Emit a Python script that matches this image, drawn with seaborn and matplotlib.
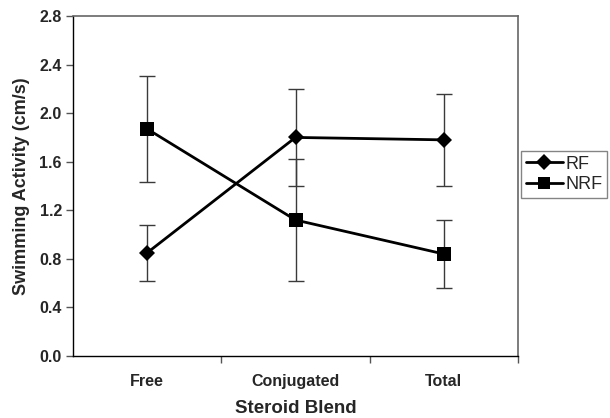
import matplotlib
matplotlib.use("Agg")
import matplotlib.pyplot as plt
import pandas as pd
import seaborn as sns
from matplotlib.lines import Line2D
from matplotlib.ticker import FixedLocator

blends = ["Free", "Conjugated", "Total"]
rf_mean = [0.85, 1.80, 1.78]
rf_err = [0.23, 0.40, 0.38]
nrf_mean = [1.87, 1.12, 0.84]
nrf_err = [0.44, 0.50, 0.28]
y_ticks = [0.0, 0.4, 0.8, 1.2, 1.6, 2.0, 2.4, 2.8]

df = pd.DataFrame({
    "Steroid Blend": blends * 2,
    "Swimming Activity (cm/s)": rf_mean + nrf_mean,
    "err": rf_err + nrf_err,
    "Group": ["RF"] * 3 + ["NRF"] * 3,
})

sns.set_style("white")
plt.rcParams["font.family"] = ["Liberation Sans", "DejaVu Sans"]

fig = plt.figure(figsize=(6.1, 4.18), dpi=100)
ax = fig.add_axes([73 / 610, 1 - 356 / 418, 445 / 610, 340 / 418])

# error bars first so markers sit on top
for grp in ["RF", "NRF"]:
    sub = df[df["Group"] == grp]
    ax.errorbar(range(len(sub)), sub["Swimming Activity (cm/s)"], yerr=sub["err"],
                fmt="none", ecolor="#3a3a3a", elinewidth=1.0, capsize=5.5, capthick=1.0, zorder=1)

sns.lineplot(data=df, x="Steroid Blend", y="Swimming Activity (cm/s)", hue="Group", style="Group",
             markers={"RF": "D", "NRF": "s"}, dashes=False, palette={"RF": "black", "NRF": "black"},
             linewidth=2.0, markersize=8, markeredgewidth=0, ax=ax, zorder=3, legend=False)
for ln, ms in zip(ax.lines[-2:], [8.5, 9.5]):
    ln.set_markersize(ms)

ax.set_xlim(-0.5, 2.5)
ax.set_ylim(0, 2.8)
ax.set_yticks(y_ticks)
ax.set_yticklabels([f"{v:.1f}" for v in y_ticks], fontweight="bold", fontsize=11.5)
ax.set_xticks(range(3))
ax.set_xticklabels(blends, fontweight="bold", fontsize=11.5)
ax.xaxis.set_minor_locator(FixedLocator([0.5, 1.5, 2.5]))
ax.tick_params(axis="x", which="major", length=0, pad=13)
ax.tick_params(axis="x", which="minor", length=5, width=1, color="#555555", direction="out", bottom=True)
ax.tick_params(axis="y", length=5, width=1, color="#555555", direction="out", left=True, pad=3)

ax.set_xlabel("Steroid Blend", fontweight="bold", fontsize=13.5, labelpad=8)
ax.set_ylabel("Swimming Activity (cm/s)", fontweight="bold", fontsize=13, labelpad=7)

for side in ["left", "bottom"]:
    ax.spines[side].set_color("black")
    ax.spines[side].set_linewidth(1.0)
for side in ["top", "right"]:
    ax.spines[side].set_color("#666666")
    ax.spines[side].set_linewidth(1.2)
ax.grid(False)

handles = [
    Line2D([], [], color="black", lw=2, marker="D", markersize=8, markeredgewidth=0),
    Line2D([], [], color="black", lw=2, marker="s", markersize=8, markeredgewidth=0),
]
leg = fig.legend(handles, ["RF", "NRF"], loc="upper left", bbox_to_anchor=(521 / 610, 1 - 151 / 418),
                 borderaxespad=0, frameon=True, fancybox=False, edgecolor="#666666", fontsize=13,
                 handlelength=2.1, handletextpad=0.1, borderpad=0.25, labelspacing=0.2)
leg.get_frame().set_linewidth(1.0)

fig.savefig("out.png", dpi=100)
